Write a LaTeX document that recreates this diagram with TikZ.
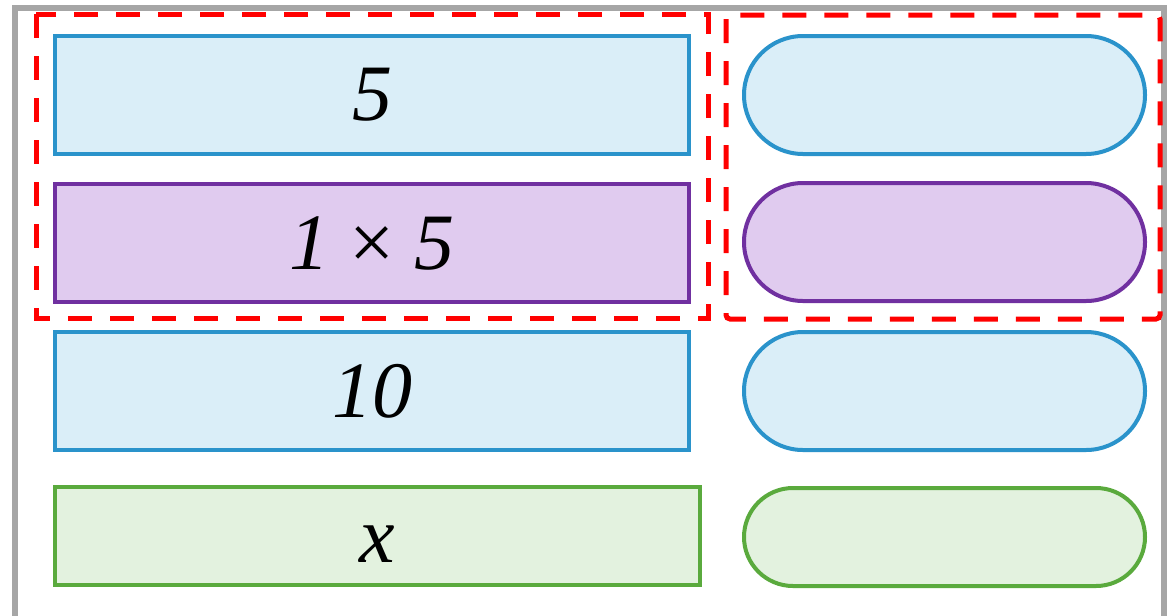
\documentclass[tikz,border=0pt]{standalone}
\usepackage{fontspec}
\setmainfont{Liberation Serif}
\usetikzlibrary{shapes.misc}
\definecolor{bstroke}{HTML}{2A93CB}
\definecolor{bfill}{HTML}{DAEEF8}
\definecolor{pstroke}{HTML}{7030A0}
\definecolor{pfill}{HTML}{E0CBEF}
\definecolor{gstroke}{HTML}{5AAA3D}
\definecolor{gfill}{HTML}{E3F2DF}
\definecolor{frame}{HTML}{A6A6A6}
\definecolor{redd}{HTML}{FF0000}
\tikzset{
  box/.style={rectangle, inner sep=0pt, outer sep=0pt, line width=2.6pt,
    minimum width=475.5pt, minimum height=88.5pt,
    font=\fontsize{60}{62}\selectfont\itshape},
  pill/.style={rounded rectangle, inner sep=0pt, outer sep=0pt, line width=3pt,
    minimum width=300.75pt, minimum height=88.5pt},
  blue/.style={draw=bstroke, fill=bfill},
  purp/.style={draw=pstroke, fill=pfill},
  grn/.style={draw=gstroke, fill=gfill},
  reddash/.style={draw=redd, line width=3.75pt, dash pattern=on 18pt off 13.5pt}
}
\begin{document}
\begin{tikzpicture}[x=0.75pt, y=-0.75pt]
\clip (0,0) rectangle (1167,615);
\fill[white] (0,0) rectangle (1167,615);
\draw[frame, line width=4pt] (15,8) rectangle (1164,640);
% left boxes
\node[box, blue] (r1) at (372,95) {5};
\node[box, purp] (r2) at (372,243) {1 {\upshape×} 5};
\node[box, blue] (r3) at (372,391) {10};
\node[box, grn, minimum width=483.75pt, minimum height=73.5pt] (r4) at (377.5,536) {\raisebox{-6pt}[\height][\depth]{x}};
% pills
\node[pill, blue] (p1) at (944.5,95) {};
\node[pill, purp] (p2) at (944.5,242) {};
\node[pill, blue] (p3) at (944.5,391) {};
\node[pill, grn, minimum height=73.5pt] (p4) at (944.5,537) {};
% red dashed groups
\draw[reddash] (36,14) rectangle (708,318);
\draw[reddash, rounded corners=3pt] (726,15) rectangle (1160,319);
\end{tikzpicture}
\end{document}
